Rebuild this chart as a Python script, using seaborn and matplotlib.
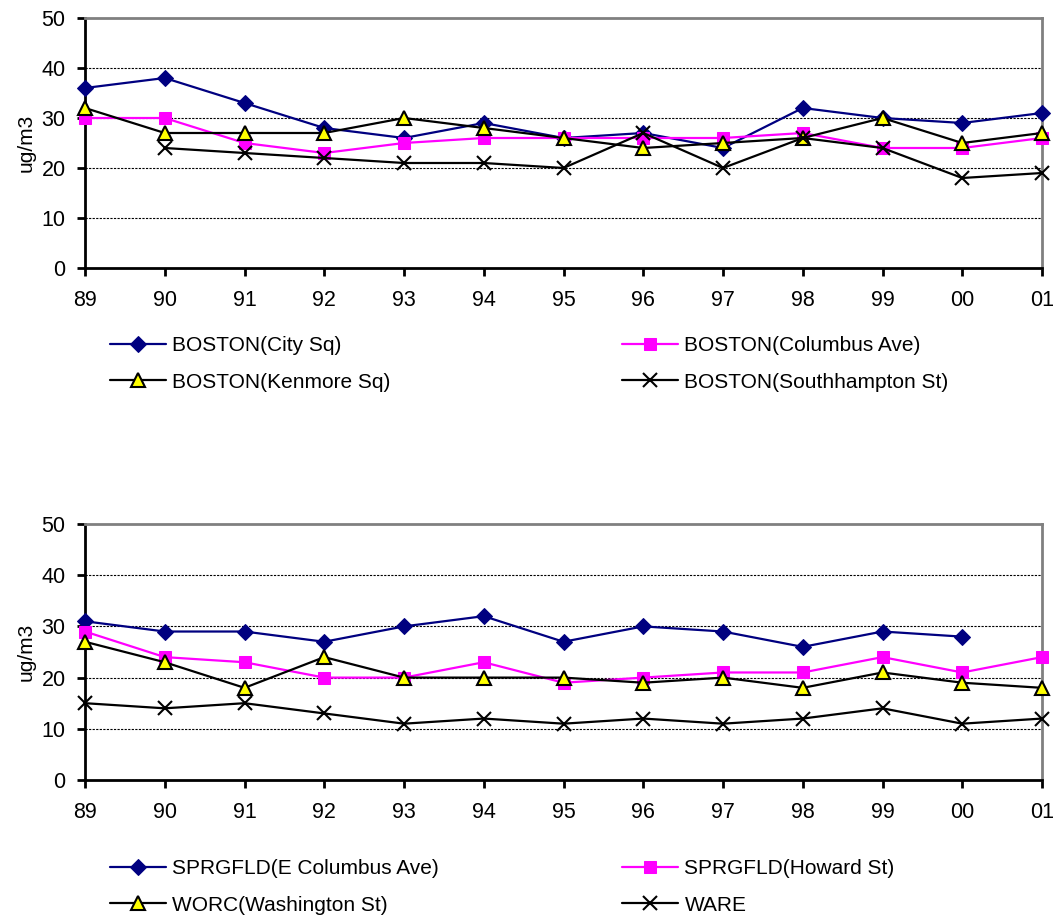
import numpy as np
import pandas as pd
import matplotlib
matplotlib.use("Agg")
import matplotlib.pyplot as plt
import seaborn as sns

years = ["89", "90", "91", "92", "93", "94", "95", "96", "97", "98", "99", "00", "01"]

top_names = ["BOSTON(City Sq)", "BOSTON(Columbus Ave)", "BOSTON(Kenmore Sq)", "BOSTON(Southhampton St)"]
city_sq = [36, 38, 33, 28, 26, 29, 26, 27, 24, 32, 30, 29, 31]
columbus_ave = [30, 30, 25, 23, 25, 26, 26, 26, 26, 27, 24, 24, 26]
kenmore_sq = [32, 27, 27, 27, 30, 28, 26, 24, 25, 26, 30, 25, 27]
southhampton_st = [np.nan, 24, 23, 22, 21, 21, 20, 27, 20, 26, 24, 18, 19]

bot_names = ["SPRGFLD(E Columbus Ave)", "SPRGFLD(Howard St)", "WORC(Washington St)", "WARE"]
e_columbus = [31, 29, 29, 27, 30, 32, 27, 30, 29, 26, 29, 28, np.nan]
howard_st = [29, 24, 23, 20, 20, 23, 19, 20, 21, 21, 24, 21, 24]
washington_st = [27, 23, 18, 24, 20, 20, 20, 19, 20, 18, 21, 19, 18]
ware = [15, 14, 15, 13, 11, 12, 11, 12, 11, 12, 14, 11, 12]

sns.set_style("white")
plt.rcParams["font.family"] = ["Liberation Sans", "DejaVu Sans"]
plt.rcParams["text.color"] = "black"
plt.rcParams["axes.labelcolor"] = "black"
plt.rcParams["xtick.color"] = "black"
plt.rcParams["ytick.color"] = "black"

FS_TICK = 15.5
FS_LEG = 15
FS_LAB = 15
styles = [
    dict(color="#000080", marker="D", markerfacecolor="#000080", markeredgecolor="#000080", markersize=8.5),
    dict(color="#FF00FF", marker="s", markerfacecolor="#FF00FF", markeredgecolor="#FF00FF", markersize=8.5),
    dict(color="black", marker="^", markerfacecolor="#FFFF00", markeredgecolor="black", markersize=10.5, markeredgewidth=1.5),
    dict(color="black", marker="x", markerfacecolor="black", markeredgecolor="black", markersize=10.5, markeredgewidth=1.5),
]

fig = plt.figure(figsize=(10.55, 9.21), dpi=100)
ax1 = fig.add_axes([85 / 1055, 1 - 268 / 921, (1042 - 85) / 1055, 250 / 921])
ax2 = fig.add_axes([85 / 1055, 1 - 780 / 921, (1042 - 85) / 1055, 256 / 921])

xs = np.arange(len(years))


def draw(ax, names, series, legend_top):
    handles = []
    for name, vals, st in zip(names, series, styles):
        df = pd.DataFrame({"x": xs, "y": vals}).dropna()
        sns.lineplot(data=df, x="x", y="y", ax=ax, linewidth=1.6, label=name,
                     clip_on=False, zorder=3, legend=False, **st)
        handles.append(ax.lines[-1])
    ax.set_xlim(0, 12)
    ax.set_ylim(0, 50)
    ax.set_xticks(xs)
    ax.set_xticklabels(years)
    ax.set_yticks([0, 10, 20, 30, 40, 50])
    ax.set_xlabel("")
    ax.set_ylabel("ug/m3", fontsize=FS_LAB, labelpad=4, color="black")
    for y in [10, 20, 30, 40]:
        ax.axhline(y, color="black", linestyle=(0, (2, 1.2)), linewidth=0.8, zorder=1)
    for s in ["left", "bottom"]:
        ax.spines[s].set_color("black")
        ax.spines[s].set_linewidth(2)
    for s in ["top", "right"]:
        ax.spines[s].set_color("#808080")
        ax.spines[s].set_linewidth(2)
    ax.tick_params(axis="both", direction="out", length=6, width=2, color="black",
                   labelsize=FS_TICK, labelcolor="black", pad=8)
    ax.tick_params(axis="x", pad=10)
    ax.tick_params(axis="both", which="both", bottom=True, left=True)
    ax.grid(False)
    kw = dict(loc="upper left", frameon=False, fontsize=FS_LEG, handlelength=2.7,
              handletextpad=0.3, labelspacing=0.85, borderpad=0, borderaxespad=0,
              bbox_transform=fig.transFigure, labelcolor="black")
    leg1 = ax.legend([handles[0], handles[2]], [names[0], names[2]],
                     bbox_to_anchor=(110 / 1055, legend_top), **kw)
    ax.add_artist(leg1)
    ax.legend([handles[1], handles[3]], [names[1], names[3]],
              bbox_to_anchor=(622 / 1055, legend_top), **kw)


draw(ax1, top_names, [city_sq, columbus_ave, kenmore_sq, southhampton_st], 1 - 336 / 921)
draw(ax2, bot_names, [e_columbus, howard_st, washington_st, ware], 1 - 859 / 921)

fig.savefig("out.png", dpi=100)
